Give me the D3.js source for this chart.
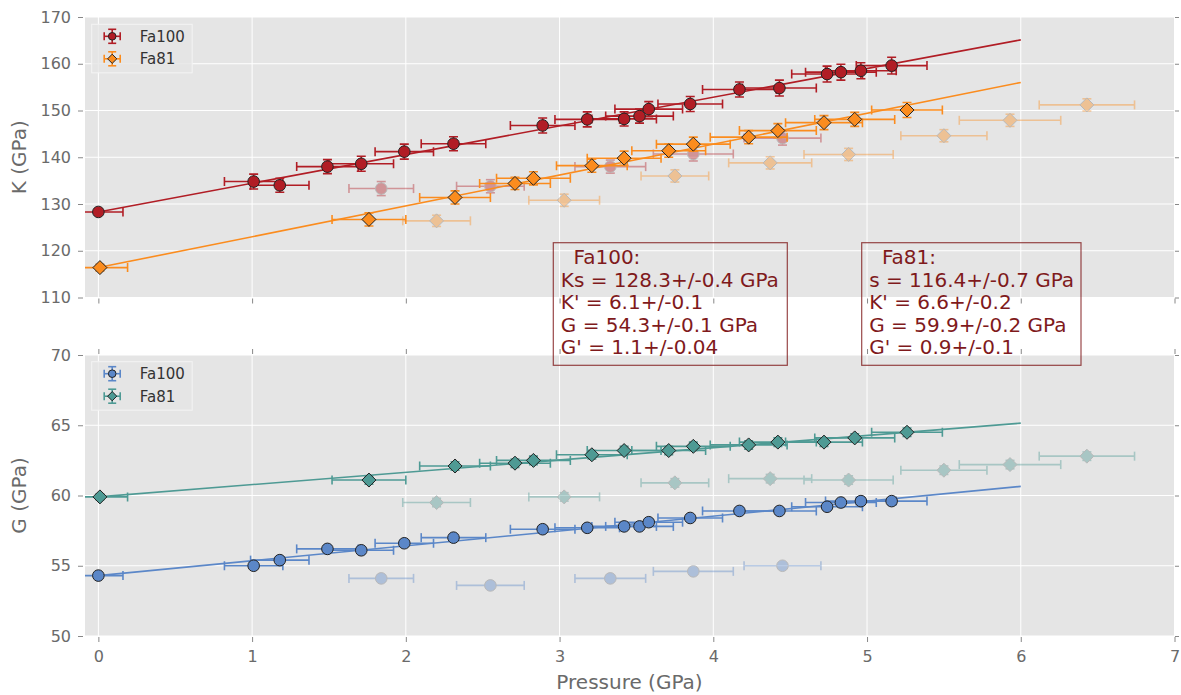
<!DOCTYPE html>
<html>
<head>
<meta charset="utf-8">
<script src="https://cdn.jsdelivr.net/npm/d3@7/dist/d3.min.js"></script>
<style>
  html, body { margin: 0; padding: 0; background: #ffffff; }
  svg { display: block; font-family: "DejaVu Sans", sans-serif; }
</style>
</head>
<body>
<svg id="chart" width="1181" height="695"></svg>
<script>
// ---------------- DATA ----------------
// Fa100 (main points)
const P_fa100    = [0.00, 1.01, 1.18, 1.49, 1.71, 1.99, 2.31, 2.89, 3.18, 3.42, 3.52, 3.58, 3.85, 4.17, 4.43, 4.74, 4.83, 4.96, 5.16];
const Perr_fa100 = [0.16, 0.19, 0.19, 0.20, 0.21, 0.19, 0.21, 0.21, 0.21, 0.21, 0.22, 0.22, 0.21, 0.24, 0.24, 0.23, 0.23, 0.23, 0.23];
const K_fa100    = [128.3, 134.8, 134.0, 138.0, 138.6, 141.2, 142.9, 146.8, 148.1, 148.2, 148.8, 150.3, 151.4, 154.5, 154.8, 157.8, 158.2, 158.5, 159.6];
const Kerr_fa100 = [0.4, 1.6, 1.5, 1.5, 1.6, 1.6, 1.5, 1.6, 1.6, 1.5, 1.5, 1.6, 1.6, 1.6, 1.7, 1.7, 1.7, 1.7, 1.8];
const G_fa100    = [54.3, 55.0, 55.4, 56.2, 56.1, 56.6, 57.0, 57.6, 57.7, 57.8, 57.8, 58.1, 58.4, 58.9, 58.9, 59.2, 59.5, 59.6, 59.6];
const Gerr_fa100 = [0.1, 0.2, 0.2, 0.2, 0.2, 0.2, 0.2, 0.2, 0.2, 0.2, 0.2, 0.2, 0.2, 0.2, 0.2, 0.2, 0.2, 0.2, 0.2];

// Fa81 (main points)
const P_fa81    = [0.01, 1.76, 2.32, 2.71, 2.83, 3.21, 3.42, 3.71, 3.87, 4.23, 4.42, 4.72, 4.92, 5.26];
const Perr_fa81 = [0.18, 0.24, 0.23, 0.23, 0.24, 0.23, 0.24, 0.24, 0.24, 0.25, 0.25, 0.25, 0.26, 0.23];
const K_fa81    = [116.4, 126.7, 131.4, 134.4, 135.5, 138.2, 139.8, 141.4, 142.8, 144.3, 145.7, 147.4, 148.1, 150.1];
const Kerr_fa81 = [0.7, 1.4, 1.4, 1.3, 1.4, 1.4, 1.5, 1.4, 1.5, 1.4, 1.5, 1.5, 1.5, 1.6];
const G_fa81    = [59.9, 61.1, 62.1, 62.3, 62.5, 62.9, 63.2, 63.2, 63.5, 63.6, 63.8, 63.8, 64.1, 64.5];
const Gerr_fa81 = [0.2, 0.3, 0.3, 0.3, 0.3, 0.3, 0.3, 0.3, 0.3, 0.3, 0.3, 0.3, 0.3, 0.3];

// Faded (excluded) points
const P_fa100_x    = [1.84, 2.55, 3.33, 3.87, 4.45];
const Perr_fa100_x = [0.21, 0.22, 0.23, 0.26, 0.25];
const K_fa100_x    = [133.3, 133.8, 138.0, 140.7, 144.1];
const Kerr_fa100_x = [1.5, 1.4, 1.4, 1.5, 1.5];
const G_fa100_x    = [54.1, 53.6, 54.1, 54.6, 55.0];
const Gerr_fa100_x = [0.2, 0.2, 0.2, 0.2, 0.2];

const P_fa81_x    = [2.20, 3.03, 3.75, 4.37, 4.88, 5.50, 5.93, 6.43];
const Perr_fa81_x = [0.22, 0.23, 0.22, 0.27, 0.29, 0.28, 0.33, 0.31];
const K_fa81_x    = [126.4, 130.8, 136.0, 138.8, 140.6, 144.6, 147.9, 151.2];
const Kerr_fa81_x = [1.2, 1.3, 1.3, 1.3, 1.3, 1.3, 1.3, 1.3];
const G_fa81_x    = [59.5, 59.9, 60.9, 61.2, 61.1, 61.8, 62.2, 62.8];
const Gerr_fa81_x = [0.3, 0.3, 0.3, 0.3, 0.3, 0.3, 0.3, 0.3];

// Fit curves
const fitP        = [0, 6];
const fitK_fa100  = [128.3, 165.1];
const fitK_fa81   = [116.4, 156.0];
const fitG_fa100  = [54.3, 60.65];
const fitG_fa81   = [59.9, 65.15];

// Ticks and labels
const xTicks  = [0, 1, 2, 3, 4, 5, 6, 7];
const kTicks  = [110, 120, 130, 140, 150, 160, 170];
const gTicks  = [50, 55, 60, 65, 70];
const seriesNames = ["Fa100", "Fa81"];
const box1Lines = ["  Fa100:", "Ks = 128.3+/-0.4 GPa", "K' = 6.1+/-0.1", "G = 54.3+/-0.1 GPa", "G' = 1.1+/-0.04"];
const box2Lines = ["  Fa81:", "s = 116.4+/-0.7 GPa", "K' = 6.6+/-0.2", "G = 59.9+/-0.2 GPa", "G' = 0.9+/-0.1"];

// ---------------- STYLE ----------------
const C_RED = "#b11d25", C_ORANGE = "#fb8c1e", C_BLUE = "#5b87c8", C_TEAL = "#4e9a94";
const BG = "#e5e5e5", TICK = "#888888", TICKLBL = "#6a6a6a";

const svg = d3.select("#chart");
const L = 85, R = 1174.5;
const x = d3.scaleLinear().domain([-0.087, 7]).range([L, R]);
const yK = d3.scaleLinear().domain([110, 170]).range([297.5, 17]);
const yG = d3.scaleLinear().domain([50, 70]).range([636, 355]);

const defs = svg.append("defs");
function makePanel(id, y, ticks, opts) {
  const [y0, y1] = y.range(); // bottom, top
  defs.append("clipPath").attr("id", id).append("rect")
    .attr("x", L).attr("y", y1).attr("width", R - L).attr("height", y0 - y1);
  const g = svg.append("g");
  g.append("rect").attr("x", L).attr("y", y1).attr("width", R - L).attr("height", y0 - y1).attr("fill", BG);
  const grid = g.append("g").attr("stroke", "#ffffff").attr("stroke-width", 1);
  xTicks.forEach(t => grid.append("line").attr("x1", x(t)).attr("x2", x(t)).attr("y1", y1).attr("y2", y0));
  ticks.forEach(t => grid.append("line").attr("x1", L).attr("x2", R).attr("y1", y(t)).attr("y2", y(t)));
  const la = svg.append("g").attr("transform", `translate(${L - 2},0)`)
    .call(d3.axisLeft(y).tickValues(ticks).tickSize(5).tickPadding(7).tickFormat(d3.format("d")));
  la.select(".domain").remove();
  la.selectAll("line").attr("stroke", TICK);
  la.selectAll("text").attr("fill", TICKLBL).style("font-size", "16px").style("font-family", "DejaVu Sans");
  const ra = svg.append("g").attr("transform", `translate(${R + 0.5},0)`)
    .call(d3.axisRight(y).tickValues(ticks).tickSize(4).tickFormat(""));
  ra.select(".domain").remove();
  ra.selectAll("line").attr("stroke", TICK);
  const ba = svg.append("g").attr("transform", `translate(0,${y0 + 1})`)
    .call(d3.axisBottom(x).tickValues(xTicks).tickSize(5).tickPadding(9).tickFormat(opts.xLabels ? d3.format("d") : ""));
  ba.select(".domain").remove();
  ba.selectAll("line").attr("stroke", TICK);
  ba.selectAll("text").attr("fill", TICKLBL).style("font-size", "16px").style("font-family", "DejaVu Sans");
  if (opts.topTicks) {
    const ta = svg.append("g").attr("transform", `translate(0,${y1 - 1})`)
      .call(d3.axisTop(x).tickValues(xTicks).tickSize(5).tickFormat(""));
    ta.select(".domain").remove();
    ta.selectAll("line").attr("stroke", TICK);
  }
  return svg.append("g").attr("clip-path", `url(#${id})`);
}

const CAP = 4.5;
function diamondPath(s) { return `M0,${-s}L${s},0L0,${s}L${-s},0Z`; }

function errorSeries(g, P, Pe, V, Ve, y, color, shape, faded) {
  const grp = g.append("g").attr("opacity", faded ? 0.4 : 1);
  const bars = grp.append("g").attr("stroke", color).attr("stroke-width", 1.6).attr("fill", "none");
  P.forEach((p, i) => {
    const cy = y(V[i]), xl = x(p - Pe[i]), xr = x(p + Pe[i]);
    const yt = y(V[i] + Ve[i]), yb = y(V[i] - Ve[i]), cx = x(p);
    bars.append("line").attr("x1", xl).attr("x2", xr).attr("y1", cy).attr("y2", cy);
    bars.append("line").attr("x1", xl).attr("x2", xl).attr("y1", cy - CAP).attr("y2", cy + CAP);
    bars.append("line").attr("x1", xr).attr("x2", xr).attr("y1", cy - CAP).attr("y2", cy + CAP);
    bars.append("line").attr("x1", cx).attr("x2", cx).attr("y1", yt).attr("y2", yb);
    bars.append("line").attr("x1", cx - CAP).attr("x2", cx + CAP).attr("y1", yt).attr("y2", yt);
    bars.append("line").attr("x1", cx - CAP).attr("x2", cx + CAP).attr("y1", yb).attr("y2", yb);
  });
  const marks = grp.append("g");
  P.forEach((p, i) => {
    const cx = x(p), cy = y(V[i]);
    const m = shape === "circle"
      ? marks.append("circle").attr("cx", cx).attr("cy", cy).attr("r", 5.8)
      : marks.append("path").attr("d", diamondPath(7)).attr("transform", `translate(${cx},${cy})`);
    m.attr("fill", color).attr("stroke", faded ? "#777777" : "#222222").attr("stroke-width", 1);
  });
}

function fitLine(g, P, V, y, color) {
  g.append("path")
    .datum(P.map((p, i) => [p, V[i]]))
    .attr("d", d3.line().x(d => x(d[0])).y(d => y(d[1])))
    .attr("stroke", color).attr("stroke-width", 1.6).attr("fill", "none");
}

// ---------------- TOP PANEL (K) ----------------
const panelK = makePanel("clipK", yK, kTicks, { xLabels: false, topTicks: false });
errorSeries(panelK, P_fa100_x, Perr_fa100_x, K_fa100_x, Kerr_fa100_x, yK, C_RED, "circle", true);
errorSeries(panelK, P_fa81_x, Perr_fa81_x, K_fa81_x, Kerr_fa81_x, yK, C_ORANGE, "diamond", true);
fitLine(panelK, fitP, fitK_fa100, yK, C_RED);
fitLine(panelK, fitP, fitK_fa81, yK, C_ORANGE);
errorSeries(panelK, P_fa100, Perr_fa100, K_fa100, Kerr_fa100, yK, C_RED, "circle", false);
errorSeries(panelK, P_fa81, Perr_fa81, K_fa81, Kerr_fa81, yK, C_ORANGE, "diamond", false);

// ---------------- BOTTOM PANEL (G) ----------------
const panelG = makePanel("clipG", yG, gTicks, { xLabels: true, topTicks: true });
errorSeries(panelG, P_fa100_x, Perr_fa100_x, G_fa100_x, Gerr_fa100_x, yG, C_BLUE, "circle", true);
errorSeries(panelG, P_fa81_x, Perr_fa81_x, G_fa81_x, Gerr_fa81_x, yG, C_TEAL, "diamond", true);
fitLine(panelG, fitP, fitG_fa100, yG, C_BLUE);
fitLine(panelG, fitP, fitG_fa81, yG, C_TEAL);
errorSeries(panelG, P_fa100, Perr_fa100, G_fa100, Gerr_fa100, yG, C_BLUE, "circle", false);
errorSeries(panelG, P_fa81, Perr_fa81, G_fa81, Gerr_fa81, yG, C_TEAL, "diamond", false);

// ---------------- AXIS LABELS ----------------
svg.append("text").attr("transform", `translate(25.5,${(yK.range()[0] + yK.range()[1]) / 2}) rotate(-90)`)
  .attr("text-anchor", "middle").attr("fill", TICKLBL).style("font-size", "20px").text("K (GPa)");
svg.append("text").attr("transform", `translate(25.5,${(yG.range()[0] + yG.range()[1]) / 2}) rotate(-90)`)
  .attr("text-anchor", "middle").attr("fill", TICKLBL).style("font-size", "20px").text("G (GPa)");
svg.append("text").attr("x", 629.5).attr("y", 689)
  .attr("text-anchor", "middle").attr("fill", TICKLBL).style("font-size", "20px").text("Pressure (GPa)");

// ---------------- LEGENDS ----------------
function legend(x0, y0, colors, shapes) {
  const g = svg.append("g");
  g.append("rect").attr("x", x0).attr("y", y0).attr("width", 100.5).attr("height", 48.5)
    .attr("fill", BG).attr("fill-opacity", 0.8).attr("stroke", "#f4f4f4").attr("stroke-width", 1);
  seriesNames.forEach((name, i) => {
    const cx = x0 + 20.5, cy = y0 + 12 + i * 22.5;
    const e = g.append("g").attr("stroke", colors[i]).attr("stroke-width", 1.6);
    e.append("line").attr("x1", cx - 8).attr("x2", cx + 8).attr("y1", cy).attr("y2", cy);
    e.append("line").attr("x1", cx - 8).attr("x2", cx - 8).attr("y1", cy - 4).attr("y2", cy + 4);
    e.append("line").attr("x1", cx + 8).attr("x2", cx + 8).attr("y1", cy - 4).attr("y2", cy + 4);
    e.append("line").attr("x1", cx).attr("x2", cx).attr("y1", cy - 7).attr("y2", cy + 7);
    e.append("line").attr("x1", cx - 4).attr("x2", cx + 4).attr("y1", cy - 7).attr("y2", cy - 7);
    e.append("line").attr("x1", cx - 4).attr("x2", cx + 4).attr("y1", cy + 7).attr("y2", cy + 7);
    const m = shapes[i] === "circle"
      ? g.append("circle").attr("cx", cx).attr("cy", cy).attr("r", 3.8)
      : g.append("path").attr("d", diamondPath(4.6)).attr("transform", `translate(${cx},${cy})`);
    m.attr("fill", colors[i]).attr("stroke", "#222").attr("stroke-width", 1);
    g.append("text").attr("x", x0 + 48).attr("y", cy + 5.5).attr("fill", "#333333")
      .style("font-size", "15px").text(name);
  });
}
legend(91.7, 24.3, [C_RED, C_ORANGE], ["circle", "diamond"]);
legend(91.7, 361.7, [C_BLUE, C_TEAL], ["circle", "diamond"]);

// ---------------- TEXT BOXES ----------------
function textBox(x0, x1, lines) {
  const y0 = 242.7, y1 = 365.3;
  svg.append("rect").attr("x", x0).attr("y", y0).attr("width", x1 - x0).attr("height", y1 - y0)
    .attr("fill", "none").attr("stroke", "#7f1a1c").attr("stroke-opacity", 0.8).attr("stroke-width", 1.2);
  lines.forEach((s, i) => {
    svg.append("text").attr("x", x0 + 7.5).attr("y", 264.3 + i * 22.4)
      .attr("fill", "#7f1a1c").style("font-size", "20px").style("white-space", "pre").text(s);
  });
}
textBox(553.3, 787.3, box1Lines);
textBox(861.7, 1081, box2Lines);
</script>
</body>
</html>
